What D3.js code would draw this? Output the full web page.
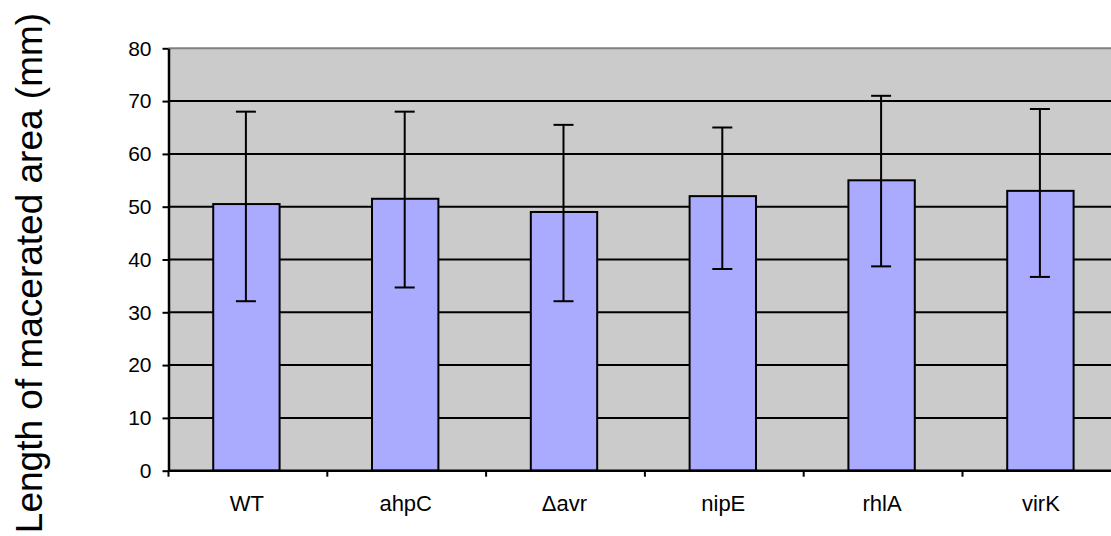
<!DOCTYPE html>
<html>
<head>
<meta charset="utf-8">
<script src="https://cdn.jsdelivr.net/npm/d3@7"></script>
<style>
  html, body { margin: 0; padding: 0; background: #fff; overflow: hidden; }
  svg { display: block; }
  text { font-family: "Liberation Sans", Arial, sans-serif; fill: #000; }
</style>
</head>
<body>
<svg id="chart" width="1111" height="536"></svg>
<script>
const categories = ["WT", "ahpC", "\u0394avr", "nipE", "rhlA", "virK"];
const means = [50.5, 51.5, 49, 52, 55, 53];
const errLow = [32.1, 34.7, 32.1, 38.2, 38.7, 36.7];
const errHigh = [68, 68, 65.5, 65, 71, 68.5];
const yTicks = [0, 10, 20, 30, 40, 50, 60, 70, 80];
const yTitle = "Length of macerated area (mm)";

const svg = d3.select("#chart");
const plotLeft = 168.5, plotRight = 1121.3, plotTop = 48.3, plotBottom = 470.7;

const x = d3.scaleBand().domain(categories).range([plotLeft, plotRight]).padding(0);
const y = d3.scaleLinear().domain([0, 80]).range([plotBottom, plotTop]);
const barW = x.bandwidth() * 0.418;

// background
svg.append("rect")
  .attr("x", plotLeft).attr("y", plotTop)
  .attr("width", plotRight - plotLeft).attr("height", plotBottom - plotTop)
  .attr("fill", "#cbcbcb");

// gridlines
svg.append("g").selectAll("line")
  .data(yTicks.filter(d => d > 0 && d < 80))
  .join("line")
  .attr("x1", plotLeft).attr("x2", plotRight)
  .attr("y1", d => y(d)).attr("y2", d => y(d))
  .attr("stroke", "#000").attr("stroke-width", 2);
// top border
svg.append("line")
  .attr("x1", plotLeft).attr("x2", plotRight)
  .attr("y1", y(80)).attr("y2", y(80))
  .attr("stroke", "#808080").attr("stroke-width", 2);

const data = categories.map((c, i) => ({c, m: means[i], lo: errLow[i], hi: errHigh[i]}));

// bars
svg.append("g").selectAll("rect")
  .data(data).join("rect")
  .attr("x", d => x(d.c) + x.bandwidth() / 2 - barW / 2 - 1.5)
  .attr("y", d => y(d.m))
  .attr("width", barW)
  .attr("height", d => y(0) - y(d.m))
  .attr("fill", "#aaaaff")
  .attr("stroke", "#000").attr("stroke-width", 2);

// error bars
const eg = svg.append("g").attr("stroke", "#000").attr("stroke-width", 2);
data.forEach(d => {
  const cx = x(d.c) + x.bandwidth() / 2 - 2;
  eg.append("line").attr("x1", cx).attr("x2", cx).attr("y1", y(d.lo)).attr("y2", y(d.hi));
  eg.append("line").attr("x1", cx - 10).attr("x2", cx + 10).attr("y1", y(d.lo)).attr("y2", y(d.lo));
  eg.append("line").attr("x1", cx - 10).attr("x2", cx + 10).attr("y1", y(d.hi)).attr("y2", y(d.hi));
});

// left axis
const yAxis = svg.append("g")
  .attr("transform", `translate(${plotLeft},0)`)
  .call(d3.axisLeft(y).tickValues(yTicks).tickSize(6).tickPadding(11).tickSizeOuter(0));
yAxis.select(".domain").attr("stroke", "#000").attr("stroke-width", 2.5);
yAxis.selectAll(".tick line").attr("stroke", "#000").attr("stroke-width", 2);
yAxis.selectAll(".tick text").attr("font-size", 21).attr("font-family", "Liberation Sans, Arial, sans-serif").attr("fill", "#000");

// bottom axis
const bounds = d3.range(categories.length + 1).map(i => plotLeft + i * x.step());
const xg = svg.append("g");
xg.append("line").attr("x1", plotLeft).attr("x2", plotRight)
  .attr("y1", plotBottom).attr("y2", plotBottom)
  .attr("stroke", "#000").attr("stroke-width", 2.5);
xg.selectAll("line.tk").data(bounds).join("line").attr("class", "tk")
  .attr("x1", d => d).attr("x2", d => d)
  .attr("y1", plotBottom).attr("y2", plotBottom + 6)
  .attr("stroke", "#000").attr("stroke-width", 2);
xg.selectAll("text").data(categories).join("text")
  .attr("x", d => x(d) + x.bandwidth() / 2 - 1)
  .attr("y", 511)
  .attr("text-anchor", "middle")
  .attr("font-size", 22)
  .text(d => d);

// y title
svg.append("text")
  .attr("transform", `translate(42,273) rotate(-90)`)
  .attr("text-anchor", "middle")
  .attr("font-size", 37)
  .text(yTitle);
</script>
</body>
</html>
